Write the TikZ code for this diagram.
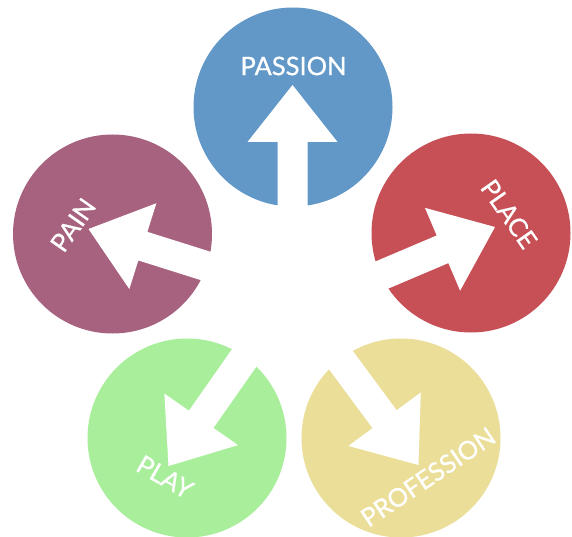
\documentclass[tikz,border=0pt]{standalone}
\usepackage{fontspec}
\setmainfont{Lato}
\newfontfamily\lblfont{Lato}[FakeBold=0.7]
\definecolor{cblue}{RGB}{98,152,200}
\definecolor{cred}{RGB}{199,80,86}
\definecolor{cpurple}{RGB}{166,98,126}
\definecolor{cgreen}{RGB}{168,238,155}
\definecolor{cyellow}{RGB}{235,222,152}
\newcommand\outarrow[3]{%
  \begin{scope}[shift={(#1,#2)},rotate=#3]
    \fill[white] (0,0) -- (-57,45) -- (-57,15) -- (-175,15) -- (-175,-15)
      -- (-57,-15) -- (-57,-45) -- cycle;
  \end{scope}}
\begin{document}
\begin{tikzpicture}[x=1pt,y=-1pt]
\tikzset{
  disc/.style={circle, minimum size=199pt, inner sep=0pt, draw=none, fill=#1},
  lbl/.style={text=white, inner sep=0pt, font=\lblfont\fontsize{25.5}{25.5}\selectfont}
}
\fill[white] (0,0) rectangle (572,537);
\useasboundingbox (0,0) rectangle (572,537);
% circles
\node[disc=cblue]   (passion) at (293,107) {};
\node[disc=cred]    (place)   at (471,233) {};
\node[disc=cpurple] (pain)    at (112.5,234) {};
\node[disc=cgreen]  (play)    at (187,438) {};
\node[disc=cyellow] (prof)    at (401,438) {};
% arrows
\outarrow{292.5}{85}{90}
\outarrow{495}{227}{23}
\outarrow{88.5}{229}{162.5}
\outarrow{168.5}{466}{235}
\outarrow{418.5}{465}{306.5}
% labels
\node[lbl] (tpassion) at (293.5,66) {PASSION};
\node[lbl, rotate=-55] (tplace) at (509,214) {PLACE};
\node[lbl, rotate=55] (tpain) at (73,225) {PAIN};
\node[lbl, rotate=-30] (tplay) at (165,477) {PLAY};
\node[lbl, rotate=34] (tprof) at (428,477) {PROFESSION};
\end{tikzpicture}
\end{document}
